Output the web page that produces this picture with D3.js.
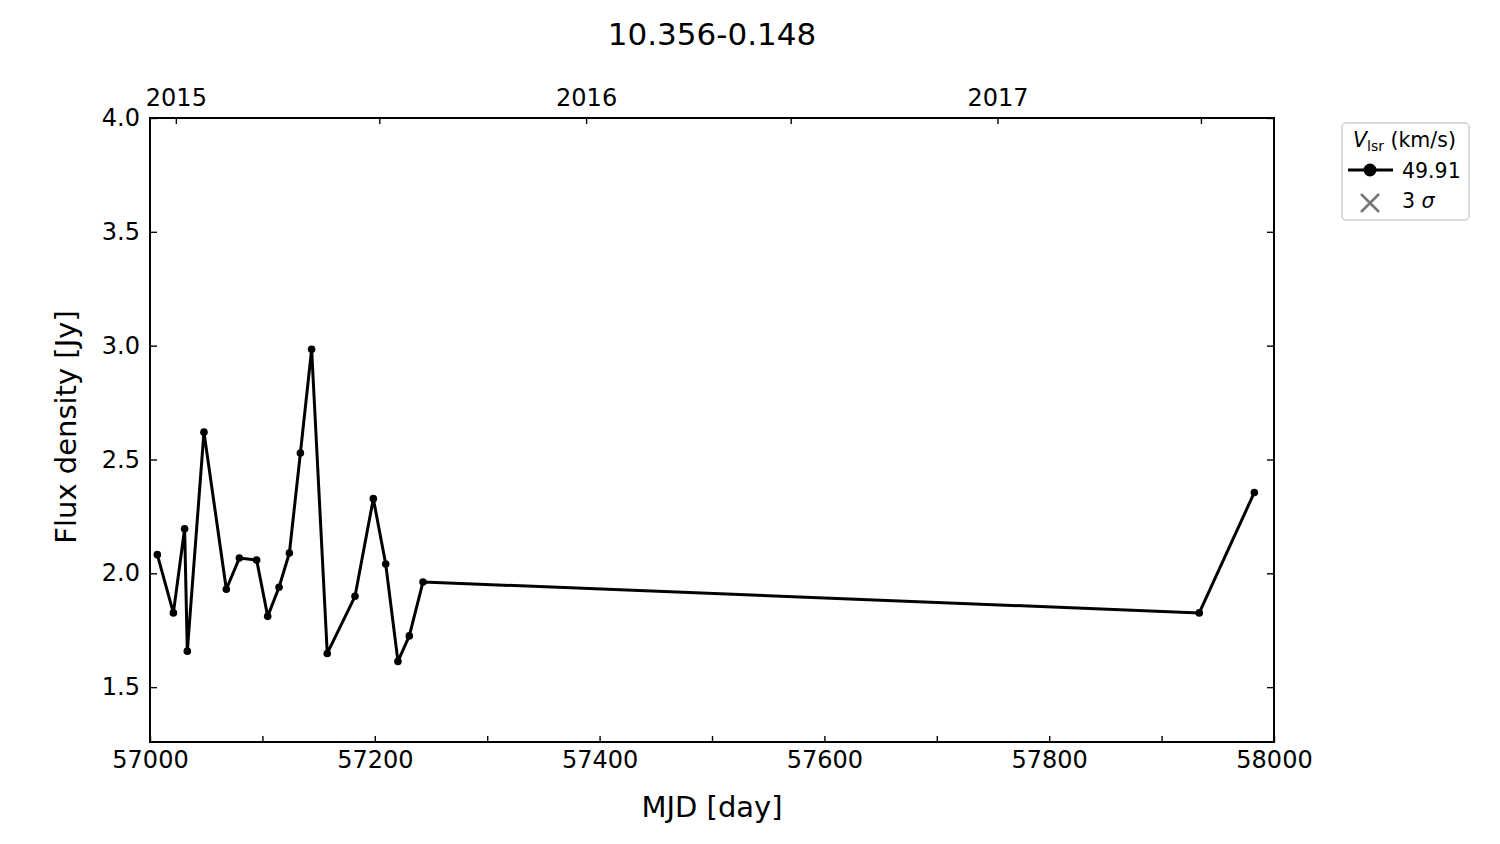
<!DOCTYPE html>
<html>
<head>
<meta charset="utf-8">
<script src="https://cdn.jsdelivr.net/npm/d3@7"></script>
<style>
    body { margin: 0; background: #fff; }
    svg { font-family: "DejaVu Sans", sans-serif; }
    .tick line { stroke: #000; stroke-width: 1.4; }
    .tick text { fill: #000; }
</style>
</head>
<body>
<div id="chart"></div>
<script>
// data
const title = "10.356-0.148";
const mjd = [57006.5, 57020.8, 57030.8, 57033.2, 57048.0, 57067.9, 57079.5, 57094.9,
    57104.7, 57114.8, 57124.0, 57133.8, 57143.8, 57157.7, 57182.4, 57198.7,
    57209.7, 57220.6, 57230.7, 57242.9, 57933.5, 57982.5];
const flux = [2.082, 1.826, 2.196, 1.658, 2.620, 1.930, 2.067, 2.058,
    1.811, 1.939, 2.089, 2.528, 2.984, 1.648, 1.899, 2.328,
    2.041, 1.613, 1.725, 1.962, 1.826, 2.355];
const seriesLabel = "49.91";
const xTicks = [57000, 57100, 57200, 57300, 57400, 57500, 57600, 57700, 57800, 57900, 58000];
const yTicks = [1.5, 2.0, 2.5, 3.0, 3.5, 4.0];
// top axis: Jan 1 and Jul 1 of each year as MJD
const yearTicks = [57023, 57388, 57754];
const yearLabels = ["2015", "2016", "2017"];
const halfYearTicks = [57204, 57570, 57935];

let width = 1500
let height = 844
let mLeft = 150, mRight = 1274, mTop = 118, mBottom = 742;
let font = "DejaVu Sans";

let svg = d3.select("#chart").append("svg")
    .attr("width", width)
    .attr("height", height);

let x = d3.scaleLinear().domain([57000, 58000]).range([mLeft, mRight]);
let y = d3.scaleLinear().domain([1.259, 4.0]).range([mBottom, mTop]);

function styleAxis(g) {
    g.attr("font-family", font).attr("font-size", 24);
    g.select(".domain").remove();
}

//bottom axis, labels every 200
svg.append("g")
    .attr("transform", "translate(0," + mBottom + ")")
    .call(d3.axisBottom(x).tickValues(xTicks).tickSize(-6).tickPadding(9)
        .tickFormat(d => (d % 200 === 0 ? d : "")))
    .call(styleAxis);

//top axis with years
let topTicks = yearTicks.concat(halfYearTicks);
svg.append("g")
    .attr("transform", "translate(0," + mTop + ")")
    .call(d3.axisTop(x).tickValues(topTicks).tickSize(-6).tickPadding(12)
        .tickFormat(d => {
            let i = yearTicks.indexOf(d);
            return i >= 0 ? yearLabels[i] : "";
        }))
    .call(styleAxis);

//left axis
svg.append("g")
    .attr("transform", "translate(" + mLeft + ",0)")
    .call(d3.axisLeft(y).tickValues(yTicks).tickSize(-7).tickPadding(10)
        .tickFormat(d3.format(".1f")))
    .call(styleAxis);

//right axis, ticks only
svg.append("g")
    .attr("transform", "translate(" + mRight + ",0)")
    .call(d3.axisRight(y).tickValues(yTicks).tickSize(-7).tickFormat(""))
    .call(styleAxis);

//frame
svg.append("rect")
    .attr("x", mLeft).attr("y", mTop)
    .attr("width", mRight - mLeft).attr("height", mBottom - mTop)
    .attr("fill", "none").attr("stroke", "#000").attr("stroke-width", 2);

//data line
let points = mjd.map((d, i) => ({x: d, y: flux[i]}));
let line = d3.line().x(d => x(d.x)).y(d => y(d.y));

svg.append("path")
    .datum(points)
    .attr("d", line)
    .attr("fill", "none")
    .attr("stroke", "#000")
    .attr("stroke-width", 3)
    .attr("stroke-linejoin", "round");

svg.append("g")
    .selectAll("circle")
    .data(points)
    .enter().append("circle")
    .attr("cx", d => x(d.x))
    .attr("cy", d => y(d.y))
    .attr("r", 3.8)
    .attr("fill", "#000");

//title and axis labels
svg.append("text")
    .attr("x", (mLeft + mRight) / 2).attr("y", 45)
    .attr("text-anchor", "middle").attr("font-size", 31)
    .text(title);

svg.append("text")
    .attr("x", (mLeft + mRight) / 2).attr("y", 817)
    .attr("text-anchor", "middle").attr("font-size", 29)
    .text("MJD [day]");

svg.append("text")
    .attr("transform", "translate(76,427) rotate(-90)")
    .attr("text-anchor", "middle").attr("font-size", 29)
    .text("Flux density [Jy]");

//legend
let legend = svg.append("g").attr("transform", "translate(1342,123)");

legend.append("rect")
    .attr("width", 127).attr("height", 97)
    .attr("rx", 4)
    .attr("fill", "#fff").attr("stroke", "#d0d0d0").attr("stroke-width", 1.5);

let lt = legend.append("text")
    .attr("x", 11).attr("y", 24).attr("font-size", 20.5);
lt.append("tspan").attr("font-style", "italic").text("V");
lt.append("tspan").attr("font-size", 14).attr("dy", 4).text("lsr");
lt.append("tspan").attr("dy", -4).text(" (km/s)");

legend.append("line")
    .attr("x1", 6).attr("x2", 51).attr("y1", 47).attr("y2", 47)
    .attr("stroke", "#000").attr("stroke-width", 3);
legend.append("circle")
    .attr("cx", 28).attr("cy", 47).attr("r", 6.5).attr("fill", "#000");
legend.append("text")
    .attr("x", 60).attr("y", 55).attr("font-size", 20.5)
    .text(seriesLabel);

let cx = 28, cy = 80, s = 9;
legend.append("path")
    .attr("d", "M" + (cx - s) + "," + (cy - s) + "L" + (cx + s) + "," + (cy + s)
        + "M" + (cx - s) + "," + (cy + s) + "L" + (cx + s) + "," + (cy - s))
    .attr("stroke", "#777").attr("stroke-width", 2.6);
let st = legend.append("text")
    .attr("x", 60).attr("y", 85).attr("font-size", 20.5);
st.append("tspan").text("3 ");
st.append("tspan").attr("font-style", "italic").text("σ");
</script>
</body>
</html>
